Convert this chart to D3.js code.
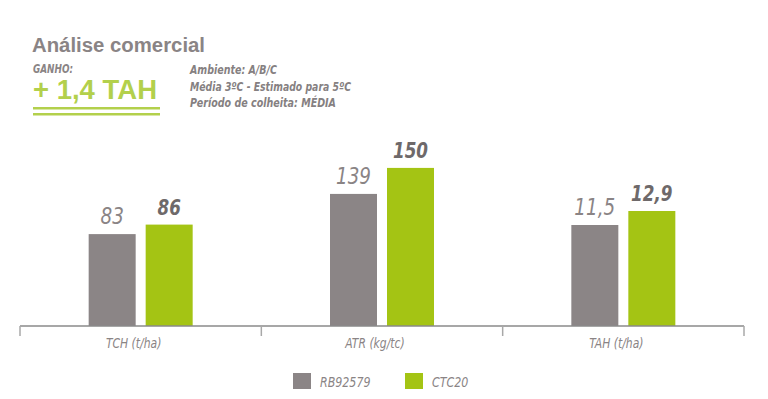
<!DOCTYPE html>
<html>
<head>
<meta charset="utf-8">
<script src="https://cdn.jsdelivr.net/npm/d3@7"></script>
<style>
  body { margin: 0; background: #fff; }
  svg { display: block; }
</style>
</head>
<body>
<svg width="768" height="399"></svg>
<script>
// categories and series
var categories = ["TCH (t/ha)", "ATR (kg/tc)", "TAH (t/ha)"];
var series = ["RB92579", "CTC20"];
var rb92579 = [83, 139, 11.5];
var ctc20 = [86, 150, 12.9];
// each group has its own (non zero based) scale in the original
var axisMin = [54, 83.15, 1.4];
var axisMax = [112.7, 161.8, 20];

var infoLines = ["Ambiente: A/B/C", "Média 3ºC - Estimado para 5ºC", "Período de colheita: MÉDIA"];

var grey = "#8b8586", green = "#a4c414", lightGreen = "#b3d04c";

var svg = d3.select("svg")
    .attr("font-family", "'DejaVu Sans', sans-serif");

// squeeze a text horizontally, the original uses a condensed face
function condense(sel, k) {
    sel.each(function () {
        var w = this.getComputedTextLength();
        d3.select(this).attr("textLength", w * k).attr("lengthAdjust", "spacingAndGlyphs");
    });
}

// Header
svg.append("text")
    .attr("x", 32).attr("y", 52)
    .attr("font-family", "'Liberation Sans', Arial, sans-serif")
    .attr("font-weight", "bold")
    .attr("font-size", 20)
    .attr("fill", "#8a8485")
    .attr("textLength", 173).attr("lengthAdjust", "spacingAndGlyphs")
    .text("Análise comercial");

svg.append("text")
    .attr("x", 33).attr("y", 73)
    .attr("font-weight", "bold").attr("font-style", "italic")
    .attr("font-size", 12.5)
    .attr("fill", "#8a8485")
    .attr("textLength", 40).attr("lengthAdjust", "spacingAndGlyphs")
    .text("GANHO:");

svg.append("text")
    .attr("x", 33).attr("y", 99)
    .attr("font-family", "'Liberation Sans', Arial, sans-serif")
    .attr("font-weight", "bold")
    .attr("font-size", 28)
    .attr("fill", lightGreen)
    .attr("textLength", 124).attr("lengthAdjust", "spacingAndGlyphs")
    .text("+ 1,4 TAH");

[108, 114].forEach(function (y) {
    svg.append("rect")
        .attr("x", 33).attr("y", y - 1)
        .attr("width", 127).attr("height", 2.5)
        .attr("fill", lightGreen);
});

var infoWidths = [87, 161, 146];
svg.append("g").selectAll("text")
    .data(infoLines)
    .enter().append("text")
    .attr("x", 190)
    .attr("y", function (d, i) { return 74 + i * 16.5; })
    .attr("font-weight", "bold").attr("font-style", "italic")
    .attr("font-size", 12)
    .attr("fill", "#858081")
    .attr("textLength", function (d, i) { return infoWidths[i]; })
    .attr("lengthAdjust", "spacingAndGlyphs")
    .text(function (d) { return d; });

// Chart
var baseline = 326, plotTop = 140;
var x0 = d3.scaleBand().domain(categories).range([20, 744]);
var x1 = d3.scaleBand().domain(series)
    .range([x0.bandwidth() / 2 - 52, x0.bandwidth() / 2 + 52])
    .paddingInner(0.1754);

var yScales = categories.map(function (c, i) {
    return d3.scaleLinear().domain([axisMin[i], axisMax[i]]).range([baseline, plotTop]);
});

var fmt = function (v) { return String(v).replace(".", ","); };

var groups = svg.append("g").selectAll("g")
    .data(categories)
    .enter().append("g")
    .attr("transform", function (d) { return "translate(" + x0(d) + ",0)"; });

groups.each(function (cat, i) {
    var g = d3.select(this);
    var vals = [
        { s: series[0], v: rb92579[i], color: grey },
        { s: series[1], v: ctc20[i], color: green }
    ];
    var y = yScales[i];
    g.selectAll("rect")
        .data(vals)
        .enter().append("rect")
        .attr("x", function (d) { return x1(d.s); })
        .attr("y", function (d) { return y(d.v); })
        .attr("width", x1.bandwidth())
        .attr("height", function (d) { return baseline - y(d.v); })
        .attr("fill", function (d) { return d.color; });

    g.selectAll("text.val")
        .data(vals)
        .enter().append("text")
        .attr("class", "val")
        .attr("x", function (d) { return x1(d.s) + x1.bandwidth() / 2; })
        .attr("y", function (d) { return y(d.v) - 10; })
        .attr("text-anchor", "middle")
        .attr("font-style", "italic")
        .attr("font-weight", function (d, j) { return j === 0 ? "normal" : "bold"; })
        .attr("font-size", function (d, j) { return j === 0 ? 23 : 21; })
        .attr("fill", function (d, j) { return j === 0 ? "#8a8485" : "#6e696a"; })
        .text(function (d) { return fmt(d.v); })
        .call(condense, 0.8);
});

// x axis
var xAxis = svg.append("g")
    .attr("transform", "translate(0," + baseline + ")");
xAxis.append("line")
    .attr("x1", 20).attr("x2", 744)
    .attr("stroke", "#8a8a8a").attr("stroke-width", 1.5);
xAxis.selectAll("line.tick")
    .data(categories.concat([null]))
    .enter().append("line")
    .attr("class", "tick")
    .attr("x1", function (d) { return d ? x0(d) : x0.range()[1]; })
    .attr("x2", function (d) { return d ? x0(d) : x0.range()[1]; })
    .attr("y1", 0).attr("y2", 10)
    .attr("stroke", "#a8a8a8").attr("stroke-width", 1.5);
xAxis.selectAll("text")
    .data(categories)
    .enter().append("text")
    .attr("x", function (d) { return x0(d) + x0.bandwidth() / 2 - 7; })
    .attr("y", 22)
    .attr("text-anchor", "middle")
    .attr("font-style", "italic")
    .attr("font-size", 13.5)
    .attr("fill", "#8a8485")
    .text(function (d) { return d; })
    .call(condense, 0.8);

// legend
var legendX = [293, 405];
var legend = svg.append("g").selectAll("g")
    .data(series)
    .enter().append("g")
    .attr("transform", function (d, i) { return "translate(" + legendX[i] + ",373)"; });
legend.append("rect")
    .attr("width", 18).attr("height", 16)
    .attr("fill", function (d, i) { return i === 0 ? grey : green; });
legend.append("text")
    .attr("x", 27).attr("y", 14)
    .attr("font-style", "italic")
    .attr("font-size", 13.5)
    .attr("fill", "#8a8485")
    .text(function (d) { return d; })
    .call(condense, 0.82);
</script>
</body>
</html>
